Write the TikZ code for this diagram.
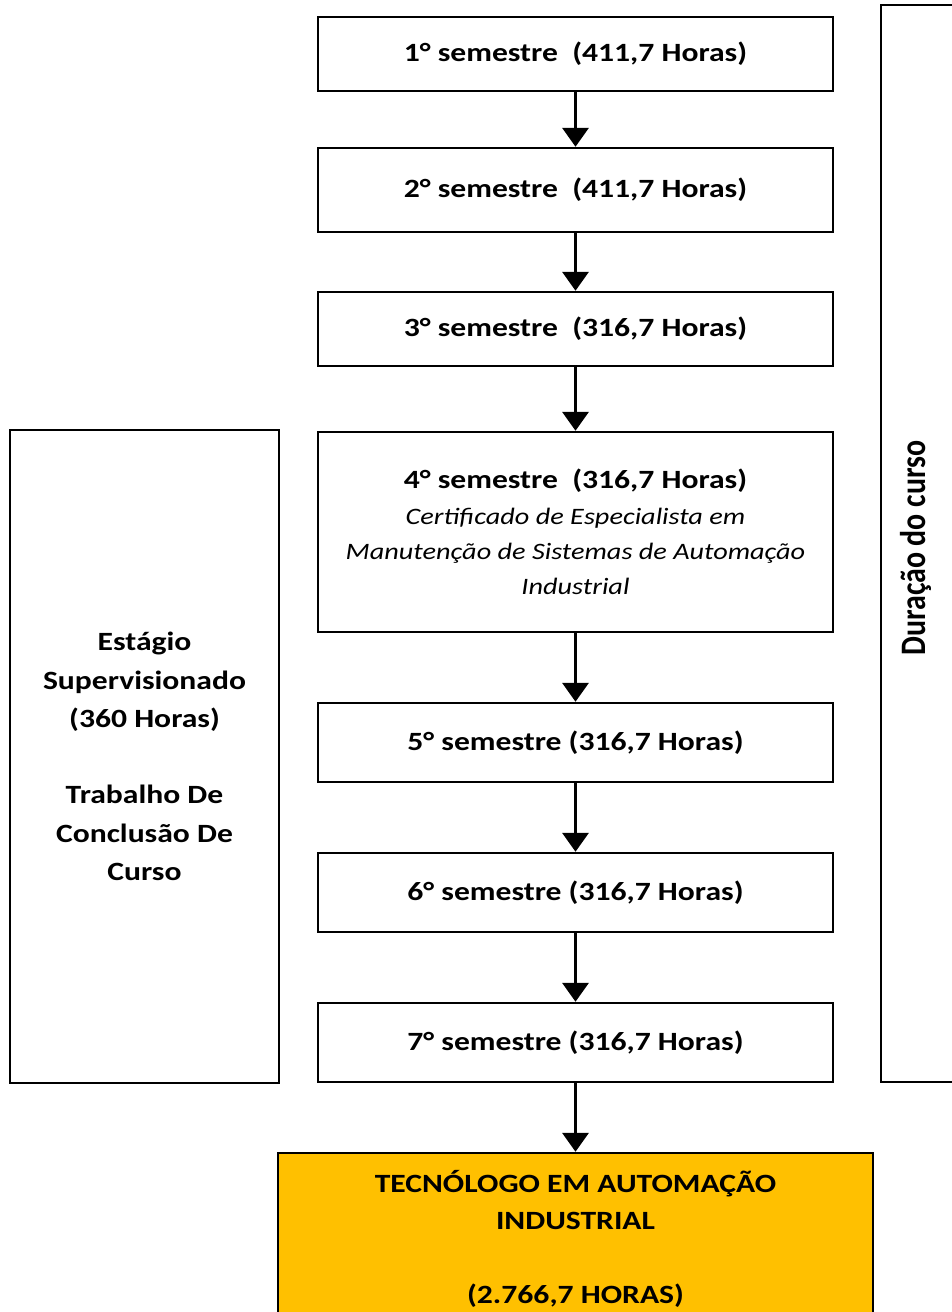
\documentclass[tikz,border=0pt]{standalone}
\usepackage{fontspec}
\setmainfont{Carlito}[FakeStretch=1.2]
\newfontfamily\sidefont{Carlito}
\usetikzlibrary{arrows.meta,positioning}
\definecolor{gold}{HTML}{FFC000}

\tikzset{
  sem/.style={draw, line width=1.4pt, minimum width=10.3cm, align=center,
    font=\bfseries\fontsize{15}{20}\selectfont},
  sidebox/.style={draw, line width=1.4pt, align=center,
    font=\bfseries\fontsize{15}{21.8}\selectfont},
  flow/.style={-{Triangle[length=0.38cm,width=0.52cm]}, line width=2pt},
}
\newcommand{\certline}[1]{{\mdseries\itshape\fontsize{13.4}{20}\selectfont #1}}

\begin{document}
\begin{tikzpicture}[x=0.02cm, y=-0.02cm]
\useasboundingbox (0,0) rectangle (952,1312);

% semestres
\node[sem, minimum height=1.48cm] (S1) at (575.5,54) {1° semestre\ \ (411,7 Horas)};
\node[sem, minimum height=1.68cm] (S2) at (575.5,190) {2° semestre\ \ (411,7 Horas)};
\node[sem, minimum height=1.48cm] (S3) at (575.5,329) {3° semestre\ \ (316,7 Horas)};
\node[sem, minimum height=4cm] (S4) at (575.5,532) {4° semestre\ \ (316,7 Horas)\\
  \certline{Certificado de Especialista em}\\
  \certline{Manutenção de Sistemas de Automação}\\
  \certline{Industrial}};
\node[sem, minimum height=1.58cm] (S5) at (575.5,742.5) {5° semestre (316,7 Horas)};
\node[sem, minimum height=1.58cm] (S6) at (575.5,892.5) {6° semestre (316,7 Horas)};
\node[sem, minimum height=1.58cm] (S7) at (575.5,1042.5) {7° semestre (316,7 Horas)};

% resultado
\node[sem, fill=gold, minimum width=11.9cm, minimum height=3.44cm,
  font=\bfseries\fontsize{15}{21}\selectfont] (tec) at (575.5,1239)
  {TECNÓLOGO EM AUTOMAÇÃO\\INDUSTRIAL\\[21pt](2.766,7 HORAS)};

% caixas laterais
\node[sidebox, minimum width=5.38cm, minimum height=13.06cm] (estagio) at (144.5,756.5)
  {Estágio\\Supervisionado\\(360 Horas)\\[21.8pt]Trabalho De\\Conclusão De\\Curso};
\node[draw, line width=1.4pt, rotate=90, minimum width=21.54cm, minimum height=1.6cm]
  (duracao) at (921,543.5) {};
\node[rotate=90, font=\sidefont\bfseries\fontsize{17}{20}\selectfont] (durlbl) at (916,548)
  {\scalebox{1}[1.2]{Duração do curso}};

% setas
\draw[flow] (S1) -- (S2);
\draw[flow] (S2) -- (S3);
\draw[flow] (S3) -- (S4);
\draw[flow] (S4) -- (S5);
\draw[flow] (S5) -- (S6);
\draw[flow] (S6) -- (S7);
\draw[flow] (S7) -- (tec);
\end{tikzpicture}
\end{document}
